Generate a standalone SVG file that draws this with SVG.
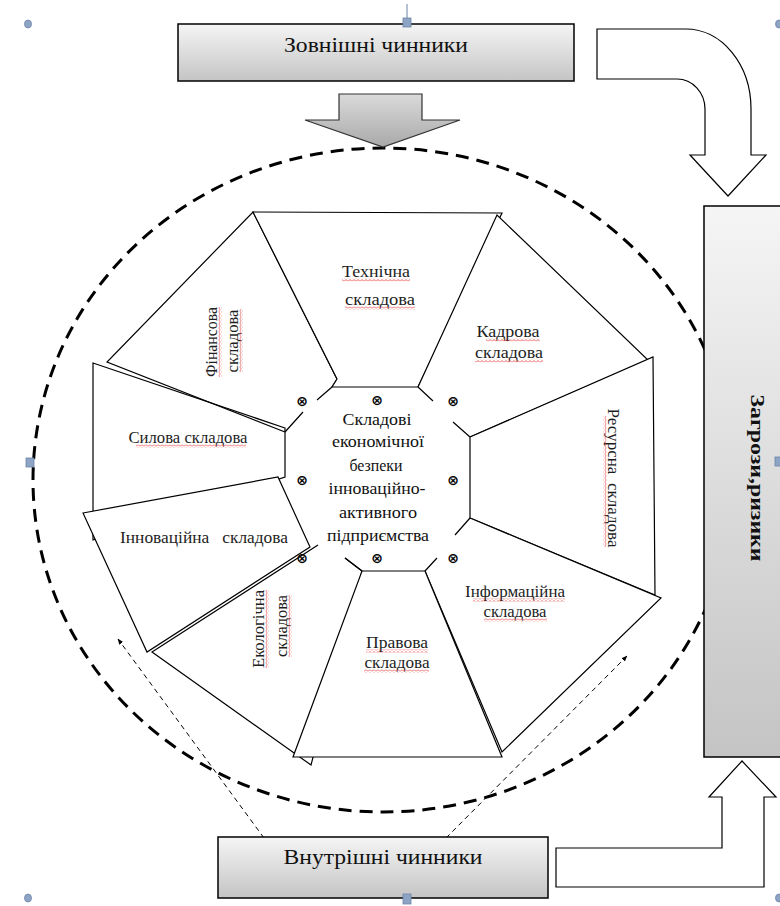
<svg xmlns="http://www.w3.org/2000/svg" width="780" height="906" viewBox="0 0 780 906" font-family="'Liberation Serif', 'DejaVu Serif', serif">
<defs>
<linearGradient id="gBox" x1="0" y1="0" x2="0" y2="1"><stop offset="0" stop-color="#f5f5f5"/><stop offset="1" stop-color="#c4c4c4"/></linearGradient>
<linearGradient id="gArrow" x1="0" y1="0" x2="0" y2="1"><stop offset="0" stop-color="#dadada"/><stop offset="1" stop-color="#a9a9a9"/></linearGradient>
<pattern id="wavy" width="4" height="3" patternUnits="userSpaceOnUse"><path d="M0,2.5 L2,0.5 L4,2.5" fill="none" stroke="#e03030" stroke-width="0.8"/></pattern>
<marker id="ah" viewBox="0 0 10 10" refX="9" refY="5" markerWidth="6" markerHeight="6" orient="auto"><path d="M0,1 L10,5 L0,9 z" fill="#000"/></marker>
<style>
.box{stroke:#000;stroke-width:1.5;fill:url(#gBox)}
.seg{fill:#fff;stroke:#000;stroke-width:1.2;stroke-linejoin:miter}
.stub{fill:none;stroke:#000;stroke-width:1.2}
.blk{fill:#fff;stroke:#000;stroke-width:1.2}
.lbl{font-size:16px;fill:#1e1e1e;text-anchor:middle}
.ctr{font-size:17px;fill:#111;text-anchor:middle}
.big{font-size:20px;fill:#111;text-anchor:middle}
.sym{font-size:14px;fill:#000;text-anchor:middle;font-weight:bold}
.wv{fill:url(#wavy)}
.hdl{fill:#8ea4c4;stroke:#6d84a8;stroke-width:0.8}
</style>
</defs>
<rect width="780" height="906" fill="#fff"/>

<g id="boundary">
<ellipse cx="383" cy="480" rx="350" ry="332" fill="none" stroke="#000" stroke-width="3" stroke-dasharray="13 8"/>
</g>

<g id="connectors">
<path d="M339,94 H422 V120 H460 L383,147 L305,120 H339 Z" fill="url(#gArrow)" stroke="#333" stroke-width="1.2"/>
<path class="blk" d="M597,29 H686 A65,80 0 0 1 751,109 V155 H766 L728,196 L690,155 H705 V109 A28,30 0 0 0 677,79 H597 Z"/>
<path class="blk" d="M556,848 H722 V797 H709 L742,761 L776,797 H764 V887 H556 Z"/>
<line x1="264" y1="838" x2="118" y2="639" stroke="#000" stroke-width="1" stroke-dasharray="5 4" marker-end="url(#ah)"/>
<line x1="446" y1="838" x2="627" y2="656" stroke="#000" stroke-width="1" stroke-dasharray="5 4" marker-end="url(#ah)"/>
</g>

<g id="zovnishni">
<rect class="box" x="178" y="24" width="396" height="57"/>
<text class="big" x="376" y="52" textLength="184" lengthAdjust="spacingAndGlyphs">Зовнішні чинники</text>
</g>
<g id="vnutrishni">
<rect class="box" x="218" y="837" width="330" height="61"/>
<text class="big" x="383" y="864" textLength="199" lengthAdjust="spacingAndGlyphs">Внутрішні чинники</text>
</g>
<g id="zagrozy">
<rect class="box" x="704" y="206" width="82" height="551"/>
<text transform="translate(757,478) rotate(90)" x="0" y="6" font-size="19" font-weight="bold" fill="#111" text-anchor="middle" textLength="167" lengthAdjust="spacingAndGlyphs">Загрози,ризики</text>
</g>

<g id="sylova">
<path class="seg" d="M285,428 L93,363 L93,540 L285,477 Z"/>
<text class="lbl" x="188" y="443" textLength="119" lengthAdjust="spacingAndGlyphs">Силова складова</text>
<rect class="wv" x="136" y="444.5" width="110" height="3"/>
</g>
<g id="finansova">
<path class="seg" style="fill:none" d="M285,432 L107,362 L253,212 L337,379 L332,387"/>
<g transform="translate(212,342) rotate(-90)">
<text class="lbl" x="0" y="5" textLength="70" lengthAdjust="spacingAndGlyphs">Фінансова</text>
<rect class="wv" x="-35" y="6.5" width="70" height="3"/>
</g>
<g transform="translate(233,341) rotate(-90)">
<text class="lbl" x="0" y="5" textLength="63" lengthAdjust="spacingAndGlyphs">складова</text>
<rect class="wv" x="-31" y="6.5" width="63" height="3"/>
</g>
</g>
<g id="tekhnichna">
<path class="seg" d="M332,387 L337,379 L253,212 L502,213 L418,387 Z"/>
<text class="lbl" x="376" y="277" textLength="68" lengthAdjust="spacingAndGlyphs">Технічна</text>
<rect class="wv" x="342" y="278.5" width="68" height="3"/>
<text class="lbl" x="380" y="305" textLength="70" lengthAdjust="spacingAndGlyphs">складова</text>
<rect class="wv" x="345" y="306.5" width="70" height="3"/>
</g>
<g id="kadrova">
<path class="seg" d="M418,387 L497,215 L648,360 L470,437"/>
<text class="lbl" x="508" y="337" textLength="63" lengthAdjust="spacingAndGlyphs">Кадрова</text>
<rect class="wv" x="486" y="338.5" width="54" height="3"/>
<text class="lbl" x="509" y="358" textLength="68" lengthAdjust="spacingAndGlyphs">складова</text>
<rect class="wv" x="475" y="359.5" width="68" height="3"/>
</g>
<g id="resursna">
<path class="seg" d="M470,437 L653,357 L655,595 L470,518 Z"/>
<g transform="translate(613,478) rotate(90)">
<text class="lbl" x="0" y="5" textLength="139" lengthAdjust="spacingAndGlyphs" style="white-space:pre">Ресурсна  складова</text>
<rect class="wv" x="-62" y="6.5" width="131" height="3"/>
</g>
</g>
<g id="informatsiina">
<path class="seg" d="M470,518 L661,598 L502,752 L425,571"/>
<text class="lbl" x="515" y="597" textLength="100" lengthAdjust="spacingAndGlyphs">Інформаційна</text>
<rect class="wv" x="473" y="598.5" width="92" height="3"/>
<text class="lbl" x="515" y="617" textLength="63" lengthAdjust="spacingAndGlyphs">складова</text>
<rect class="wv" x="484" y="618.5" width="63" height="3"/>
</g>
<g id="ekolohichna">
<path class="seg" d="M318,545 L152,652 L311,765 L362,571 L345,558"/>
<g transform="translate(259,629) rotate(-90)">
<text class="lbl" x="0" y="5" textLength="78" lengthAdjust="spacingAndGlyphs">Екологічна</text>
<rect class="wv" x="-39" y="6.5" width="78" height="3"/>
</g>
<g transform="translate(282,626) rotate(-90)">
<text class="lbl" x="0" y="5" textLength="62" lengthAdjust="spacingAndGlyphs">складова</text>
<rect class="wv" x="-31" y="6.5" width="62" height="3"/>
</g>
</g>
<g id="innovatsiina">
<path class="seg" d="M83,513 L278,477 L310,547 L147,652 Z"/>
<text class="lbl" x="204" y="543" textLength="168" lengthAdjust="spacingAndGlyphs" style="white-space:pre">Інноваційна   складова</text>
</g>
<g id="pravova">
<path class="seg" d="M362,571 L425,571 L502,757 L293,757 Z"/>
<text class="lbl" x="397" y="648" textLength="62" lengthAdjust="spacingAndGlyphs">Правова</text>
<rect class="wv" x="366" y="649.5" width="62" height="3"/>
<text class="lbl" x="397" y="668" textLength="65" lengthAdjust="spacingAndGlyphs">складова</text>
<rect class="wv" x="364" y="669.5" width="65" height="3"/>
</g>

<g id="center">
<path class="stub" d="M285,432 L303,412 M317,400 L332,387 M418,387 L433,401 M453,422 L470,437 M470,518 L455,535 M437,558 L425,571 M345,558 L362,571"/>
<g font-family="'DejaVu Sans', 'Liberation Sans', sans-serif">
<text class="sym" x="302" y="406">⊗</text>
<text class="sym" x="377" y="405">⊗</text>
<text class="sym" x="453" y="406">⊗</text>
<text class="sym" x="302" y="485">⊗</text>
<text class="sym" x="453" y="485">⊗</text>
<text class="sym" x="302" y="563">⊗</text>
<text class="sym" x="377" y="563">⊗</text>
<text class="sym" x="453" y="563">⊗</text>
</g>
<text class="ctr" x="377" y="425" textLength="69" lengthAdjust="spacingAndGlyphs">Складові</text>
<text class="ctr" x="378" y="447" textLength="92" lengthAdjust="spacingAndGlyphs">економічної</text>
<text class="ctr" x="376" y="471" textLength="53" lengthAdjust="spacingAndGlyphs">безпеки</text>
<text class="ctr" x="377" y="494" textLength="97" lengthAdjust="spacingAndGlyphs">інноваційно-</text>
<text class="ctr" x="378" y="518" textLength="78" lengthAdjust="spacingAndGlyphs">активного</text>
<text class="ctr" x="378" y="541" textLength="102" lengthAdjust="spacingAndGlyphs">підприємства</text>
</g>

<g id="handles">
<line x1="407" y1="4" x2="407" y2="18" stroke="#6d84a8" stroke-width="1"/>
<rect class="hdl" x="403" y="18" width="8" height="9"/>
<ellipse class="hdl" cx="28" cy="24" rx="3.5" ry="4"/>
<ellipse class="hdl" cx="779" cy="24" rx="3.5" ry="4"/>
<rect class="hdl" x="26" y="458" width="8" height="9"/>
<rect class="hdl" x="775" y="457" width="8" height="9"/>
<ellipse class="hdl" cx="28" cy="898" rx="3.5" ry="4"/>
<rect class="hdl" x="403" y="894" width="8" height="10"/>
<ellipse class="hdl" cx="779" cy="898" rx="3.5" ry="4"/>
</g>
</svg>
